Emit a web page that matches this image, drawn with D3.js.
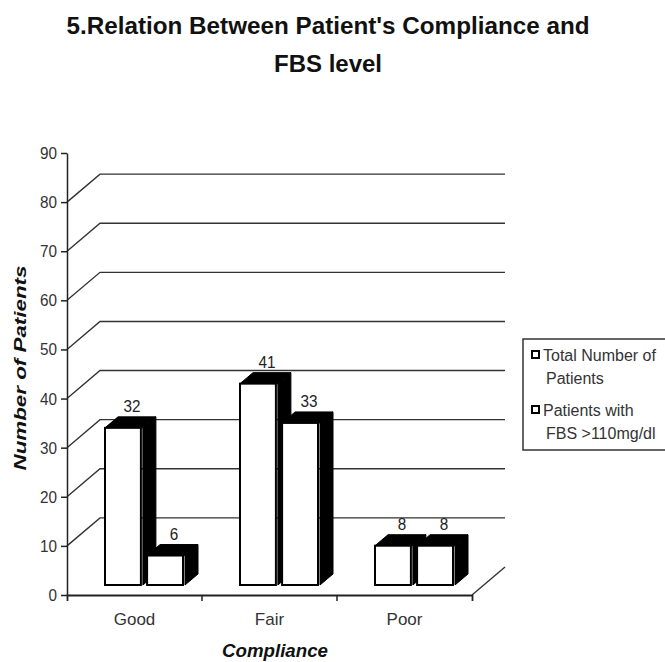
<!DOCTYPE html>
<html>
<head>
<meta charset="utf-8">
<script src="https://cdn.jsdelivr.net/npm/d3@7"></script>
<style>
  body { margin: 0; background: #fff; }
  svg { display: block; font-family: "Liberation Sans", Arial, sans-serif; }
</style>
</head>
<body>
<div id="chart"></div>
<script>
// Data
const categories = ["Good", "Fair", "Poor"];
const seriesNames = ["Total Number of Patients", "Patients with FBS >110mg/dl"];
const totalPatients = [32, 41, 8];
const fbsAbove110 = [6, 33, 8];
const yTickValues = [0, 10, 20, 30, 40, 50, 60, 70, 80, 90];
const gridValues = [10, 20, 30, 40, 50, 60, 70, 80];

const width = 665, height = 662;

const svg = d3.select("#chart").append("svg")
  .attr("width", width)
  .attr("height", height);

// Scales
const x0 = d3.scaleBand().domain(categories).range([67, 472]);
const x1 = d3.scaleBand().domain([0, 1]).range([38, 118]).paddingInner(0.1);
const y = d3.scaleLinear().domain([0, 90]).range([595, 153]);

// 3D offsets
const wallDx = 33, wallDy = -28;   // back wall
const barShiftY = -10;             // bars sit a bit behind the front plane
const depthDx = 13, depthDy = -11; // bar depth

// Back wall gridlines
const grid = svg.append("g").attr("stroke", "#333").attr("stroke-width", 1.4).attr("fill", "none");
gridValues.forEach(v => {
  grid.append("polyline")
    .attr("points", [[67, y(v)], [67 + wallDx, y(v) + wallDy], [505, y(v) + wallDy]].join(" "));
});
// floor edge on the right
grid.append("line")
  .attr("x1", x0.range()[1]).attr("y1", y(0))
  .attr("x2", x0.range()[1] + wallDx).attr("y2", y(0) + wallDy);

// Bars
const rows = categories.map((c, i) => [
  { cat: c, s: 0, v: totalPatients[i] },
  { cat: c, s: 1, v: fbsAbove110[i] }
]);

const barsG = svg.append("g");
[0, 1].forEach(s => {
  rows.forEach(r => {
    const d = r[s];
    const x = x0(d.cat) + x1(d.s);
    const w = x1.bandwidth();
    const yt = y(d.v) + barShiftY;
    const yb = y(0) + barShiftY;
    const g = barsG.append("g");
    g.append("polygon")
      .attr("points", [[x + w, yt], [x + w + depthDx, yt + depthDy], [x + w + depthDx, yb + depthDy], [x + w, yb]].join(" "))
      .attr("fill", "#000").attr("stroke", "#000").attr("stroke-width", 1);
    g.append("polygon")
      .attr("points", [[x, yt], [x + depthDx, yt + depthDy], [x + w + depthDx, yt + depthDy], [x + w, yt]].join(" "))
      .attr("fill", "#000").attr("stroke", "#000").attr("stroke-width", 1);
    g.append("rect")
      .attr("x", x).attr("y", yt)
      .attr("width", w - 2).attr("height", yb - yt)
      .attr("fill", "#fff").attr("stroke", "#000").attr("stroke-width", 2);
    const label = String(d.v);
    g.append("text")
      .attr("x", x + w / 2 + 8)
      .attr("y", yt + depthDy - 5)
      .attr("text-anchor", "middle")
      .attr("font-size", 16)
      .attr("textLength", label.length * 8.5)
      .attr("lengthAdjust", "spacingAndGlyphs")
      .attr("fill", "#222")
      .text(label);
  });
});

// Y axis
const yAxis = svg.append("g")
  .attr("transform", "translate(67,0)")
  .call(d3.axisLeft(y).tickValues(yTickValues).tickSize(6).tickSizeOuter(0).tickPadding(4));
yAxis.selectAll("path, line").attr("stroke", "#222").attr("stroke-width", 1.5);
yAxis.selectAll("text")
  .attr("font-size", 17).attr("fill", "#333")
  .attr("textLength", d => String(d).length * 8.5)
  .attr("lengthAdjust", "spacingAndGlyphs")
  .style("font-family", "Liberation Sans, Arial, sans-serif");

// X axis
const xAxis = svg.append("g")
  .attr("transform", "translate(0," + y(0) + ")")
  .call(d3.axisBottom(x0).tickSizeInner(0).tickSizeOuter(6).tickPadding(18));
xAxis.selectAll("path").attr("stroke", "#222").attr("stroke-width", 1.8);
xAxis.selectAll("text").attr("font-size", 17).attr("fill", "#333")
  .style("font-family", "Liberation Sans, Arial, sans-serif");
categories.slice(1).forEach(c => {
  xAxis.append("line")
    .attr("x1", x0(c)).attr("x2", x0(c))
    .attr("y1", 0).attr("y2", 6)
    .attr("stroke", "#222").attr("stroke-width", 1.5);
});

// Axis titles
svg.append("text")
  .attr("transform", "translate(26,368) rotate(-90)")
  .attr("text-anchor", "middle")
  .attr("font-size", 17).attr("font-weight", "bold").attr("font-style", "italic")
  .attr("textLength", 205).attr("lengthAdjust", "spacingAndGlyphs")
  .attr("fill", "#111")
  .text("Number of Patients");

svg.append("text")
  .attr("x", 275).attr("y", 657)
  .attr("text-anchor", "middle")
  .attr("font-size", 19).attr("font-weight", "bold").attr("font-style", "italic")
  .attr("textLength", 106).attr("lengthAdjust", "spacingAndGlyphs")
  .attr("fill", "#111")
  .text("Compliance");

// Title
const titleLines = ["5.Relation Between Patient's Compliance and", "FBS level"];
const titleLengths = [523, 108];
titleLines.forEach((t, i) => {
  svg.append("text")
    .attr("x", 328).attr("y", 34 + i * 38)
    .attr("text-anchor", "middle")
    .attr("font-size", 24).attr("font-weight", "bold")
    .attr("textLength", titleLengths[i]).attr("lengthAdjust", "spacingAndGlyphs")
    .attr("fill", "#111")
    .text(t);
});

// Legend
const legend = svg.append("g");
legend.append("rect")
  .attr("x", 523).attr("y", 339).attr("width", 160).attr("height", 111)
  .attr("fill", "#fff").attr("stroke", "#333").attr("stroke-width", 1.5);
const legendLines = [["Total Number of", "Patients"], ["Patients with", "FBS >110mg/dl"]];
legendLines.forEach((lines, i) => {
  const ly = 355 + i * 55;
  legend.append("rect")
    .attr("x", 532).attr("y", ly - 4).attr("width", 7).attr("height", 7)
    .attr("fill", "#fff").attr("stroke", "#000").attr("stroke-width", 2);
  lines.forEach((t, j) => {
    legend.append("text")
      .attr("x", j === 0 ? 543 : 546).attr("y", ly + 6 + j * 23)
      .attr("font-size", 16)
      .attr("fill", "#333")
      .text(t);
  });
});
</script>
</body>
</html>
